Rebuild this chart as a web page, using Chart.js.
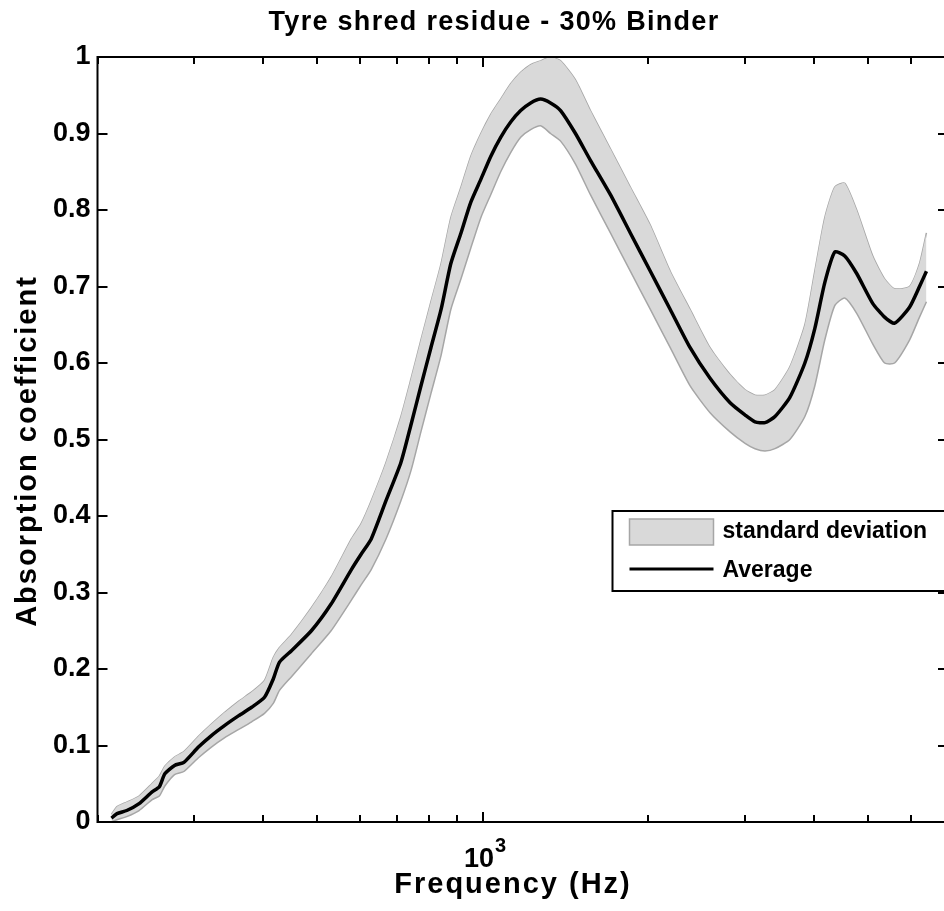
<!DOCTYPE html>
<html>
<head>
<meta charset="utf-8">
<script src="https://cdn.jsdelivr.net/npm/chart.js@4.4.1/dist/chart.umd.min.js"></script>
<style>
  html, body { margin: 0; padding: 0; background: #fff; overflow: hidden; }
  #wrap { width: 952px; height: 911px; }
</style>
</head>
<body>
<div id="wrap"><canvas id="chart"></canvas></div>
<script>
// Measured absorption of the tyre shred residue sample (30% binder)
const freqHz = [212, 217, 226, 238, 251, 259, 265, 276, 287, 305, 322, 340, 361, 381, 402, 417, 428, 450,
  489, 531, 578, 602, 628, 668, 711, 742, 773, 806, 841, 876, 914, 952, 993, 1035, 1079, 1125, 1173, 1223,
  1275, 1329, 1386, 1475, 1570, 1707, 1855, 2017, 2192, 2382, 2589, 2815, 2997, 3124, 3257, 3396, 3614,
  3848, 4011, 4182, 4360, 4546, 4779, 5109, 5370, 5599, 5960, 6214, 6397];
const average = [0.005, 0.011, 0.015, 0.024, 0.039, 0.046, 0.063, 0.074, 0.078, 0.098, 0.113, 0.126, 0.139,
  0.150, 0.163, 0.187, 0.209, 0.224, 0.25, 0.285, 0.33, 0.35, 0.37, 0.42, 0.47, 0.52, 0.57, 0.62, 0.67, 0.73,
  0.77, 0.81, 0.84, 0.87, 0.895, 0.915, 0.93, 0.94, 0.945, 0.94, 0.93, 0.90, 0.865, 0.82, 0.77, 0.72, 0.67,
  0.62, 0.58, 0.548, 0.532, 0.523, 0.522, 0.53, 0.555, 0.60, 0.645, 0.705, 0.745, 0.74, 0.717, 0.678, 0.66,
  0.652, 0.673, 0.70, 0.72];
const stdUpper = [0.01, 0.02, 0.026, 0.034, 0.05, 0.06, 0.073, 0.085, 0.092, 0.112, 0.128, 0.143, 0.158,
  0.170, 0.185, 0.215, 0.228, 0.245, 0.28, 0.32, 0.37, 0.39, 0.42, 0.47, 0.53, 0.58, 0.63, 0.68, 0.73, 0.79,
  0.83, 0.87, 0.90, 0.925, 0.945, 0.965, 0.98, 0.99, 0.995, 1.0, 0.995, 0.97, 0.93, 0.88, 0.83, 0.78, 0.72,
  0.67, 0.62, 0.585, 0.565, 0.558, 0.558, 0.565, 0.595, 0.65, 0.72, 0.79, 0.83, 0.835, 0.80, 0.74, 0.71,
  0.697, 0.70, 0.73, 0.77];
const stdLower = [0.0, 0.003, 0.007, 0.015, 0.029, 0.034, 0.047, 0.062, 0.066, 0.084, 0.098, 0.110, 0.121,
  0.131, 0.142, 0.155, 0.172, 0.190, 0.22, 0.25, 0.29, 0.31, 0.33, 0.37, 0.42, 0.46, 0.51, 0.56, 0.61, 0.67,
  0.71, 0.75, 0.79, 0.82, 0.85, 0.875, 0.895, 0.905, 0.91, 0.90, 0.89, 0.86, 0.82, 0.77, 0.72, 0.67, 0.62,
  0.57, 0.535, 0.51, 0.495, 0.488, 0.485, 0.488, 0.50, 0.53, 0.57, 0.63, 0.675, 0.685, 0.665, 0.625, 0.60,
  0.60, 0.63, 0.66, 0.68];

// Axis ticks
const xTicksMinor = [200, 300, 400, 500, 600, 700, 800, 900, 2000, 3000, 4000, 5000, 6000, 7000];
const xTicksMajor = [1000];
const yTicks = [0, 0.1, 0.2, 0.3, 0.4, 0.5, 0.6, 0.7, 0.8, 0.9, 1];

const TITLE = 'Tyre shred residue - 30% Binder';
const X_LABEL = 'Frequency (Hz)';
const Y_LABEL = 'Absorption coefficient';

const FONT = "'Liberation Sans', Arial, Helvetica, sans-serif";
const BAND_FILL = '#d9d9d9';
const BAND_EDGE = '#a6a6a6';

const pts = (ys) => freqHz.map((f, i) => ({ x: f, y: ys[i] }));

// Inward tick marks, the axes box and the decade label
const frameTicks = {
  id: 'frameTicks',
  afterDatasetsDraw(chart) {
    const { ctx, chartArea: a, scales: { x, y } } = chart;
    ctx.save();
    ctx.strokeStyle = '#000';
    ctx.lineWidth = 2;
    ctx.beginPath();
    const xt = (v, len) => {
      const px = Math.round(x.getPixelForValue(v));
      ctx.moveTo(px, a.bottom); ctx.lineTo(px, a.bottom - len);
      ctx.moveTo(px, a.top); ctx.lineTo(px, a.top + len);
    };
    xTicksMinor.forEach(v => xt(v, 7));
    xTicksMajor.forEach(v => xt(v, 10));
    yTicks.forEach(v => {
      const py = Math.round(y.getPixelForValue(v));
      ctx.moveTo(a.left, py); ctx.lineTo(a.left + 10, py);
      ctx.moveTo(a.right, py); ctx.lineTo(a.right - 10, py);
    });
    ctx.stroke();
    ctx.strokeRect(a.left, a.top, a.right - a.left, a.bottom - a.top);

    // decade labels: 10 with a raised exponent
    ctx.fillStyle = '#000';
    ctx.textBaseline = 'alphabetic';
    ctx.textAlign = 'left';
    xTicksMajor.forEach(v => {
      const px = x.getPixelForValue(v);
      const exp = String(Math.round(Math.log10(v)));
      ctx.font = `bold 27px ${FONT}`;
      const wBase = ctx.measureText('10').width;
      ctx.font = `bold 20px ${FONT}`;
      const wExp = ctx.measureText(exp).width;
      const x0 = px - (wBase + wExp) / 2 + 2;
      ctx.font = `bold 27px ${FONT}`;
      ctx.fillText('10', x0, a.bottom + 45);
      ctx.font = `bold 20px ${FONT}`;
      ctx.fillText(exp, x0 + wBase + 1, a.bottom + 30);
    });
    ctx.restore();
  }
};

// Title, axis labels and legend box
const textAndLegend = {
  id: 'textAndLegend',
  afterDraw(chart) {
    const { ctx, chartArea: a } = chart;
    ctx.save();
    ctx.fillStyle = '#000';
    ctx.textAlign = 'center';
    ctx.textBaseline = 'middle';

    ctx.font = `bold 27px ${FONT}`;
    ctx.letterSpacing = '1.3px';
    ctx.fillText(TITLE, 494, 23);

    ctx.font = `bold 29px ${FONT}`;
    ctx.letterSpacing = '2px';
    ctx.fillText(X_LABEL, 513, a.bottom + 63);

    ctx.save();
    ctx.translate(28, 451);
    ctx.rotate(-Math.PI / 2);
    ctx.fillText(Y_LABEL, 0, 0);
    ctx.restore();
    ctx.letterSpacing = '0px';

    // legend
    const bx = a.left + 515, by = 511, bw = 360, bh = 80;
    ctx.fillStyle = '#fff';
    ctx.fillRect(bx, by, bw, bh);
    ctx.strokeStyle = '#000';
    ctx.lineWidth = 2;
    ctx.strokeRect(bx, by, bw, bh);
    const band = chart.data.datasets[1];
    ctx.fillStyle = band.backgroundColor;
    ctx.fillRect(bx + 17, by + 8, 84, 26);
    ctx.strokeStyle = band.borderColor;
    ctx.lineWidth = 1.5;
    ctx.strokeRect(bx + 17, by + 8, 84, 26);
    const avg = chart.data.datasets[2];
    ctx.strokeStyle = avg.borderColor;
    ctx.lineWidth = 3;
    ctx.beginPath();
    ctx.moveTo(bx + 17, by + 58); ctx.lineTo(bx + 101, by + 58);
    ctx.stroke();
    ctx.fillStyle = '#000';
    ctx.font = `bold 23px ${FONT}`;
    ctx.textAlign = 'left';
    ctx.fillText(band.label, bx + 110, by + 21);
    ctx.fillText(avg.label, bx + 110, by + 60);
    ctx.restore();
  }
};

new Chart(document.getElementById('chart'), {
  type: 'line',
  data: {
    datasets: [
      { label: 'upper', data: pts(stdUpper), borderColor: BAND_EDGE, borderWidth: 1.5,
        pointRadius: 0, fill: false, tension: 0.2, order: 2 },
      { label: 'standard deviation', data: pts(stdLower), borderColor: BAND_EDGE, borderWidth: 1.5,
        backgroundColor: BAND_FILL, pointRadius: 0, fill: '-1', tension: 0.2, order: 1 },
      { label: 'Average', data: pts(average), borderColor: '#000', borderWidth: 3.5,
        pointRadius: 0, fill: false, tension: 0.2, order: 0 }
    ]
  },
  options: {
    responsive: true,
    maintainAspectRatio: false,
    animation: false,
    layout: { padding: { top: 57, right: 4, bottom: 0, left: 0 } },
    plugins: { legend: { display: false }, tooltip: { enabled: false }, title: { display: false } },
    scales: {
      x: {
        type: 'logarithmic', min: 200, max: 7000,
        grid: { display: false, drawTicks: false },
        border: { display: false },
        afterBuildTicks: s => { s.ticks = xTicksMajor.map(v => ({ value: v })); },
        ticks: { callback: () => '', autoSkip: false, maxRotation: 0 },
        afterFit: s => { s.height = 89; }
      },
      y: {
        min: 0, max: 1,
        grid: { display: false, drawTicks: false },
        border: { display: false },
        afterBuildTicks: s => { s.ticks = yTicks.map(v => ({ value: v })); },
        ticks: { color: '#000', padding: 7, font: { family: FONT, size: 27, weight: 'bold' },
          callback: v => String(Math.round(v * 10) / 10) },
        afterFit: s => { s.width = 97.5; }
      }
    }
  },
  plugins: [frameTicks, textAndLegend]
});
</script>
</body>
</html>
